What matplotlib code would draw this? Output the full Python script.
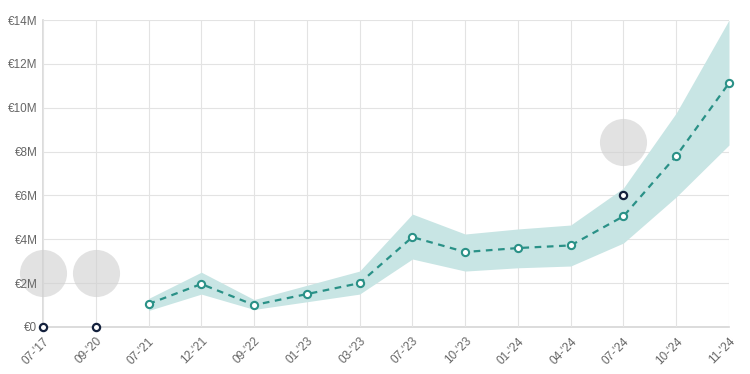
import matplotlib
matplotlib.use("Agg")
import matplotlib.pyplot as plt
import numpy as np

plt.rcParams['font.family'] = ['Liberation Sans', 'DejaVu Sans']

categories = ["07-'17", "09-'20", "07-'21", "12-'21", "09-'22", "01-'23", "03-'23",
              "07-'23", "10-'23", "01-'24", "04-'24", "07-'24", "10-'24", "11-'24"]

# forecast series (millions), starts at index 2
trend_idx = [2, 3, 4, 5, 6, 7, 8, 9, 10, 11, 12, 13]
trend_vals = [1.05, 1.96, 1.0, 1.5, 2.0, 4.1, 3.42, 3.6, 3.72, 5.05, 7.8, 11.12]
band_low = [0.75, 1.5, 0.8, 1.15, 1.5, 3.1, 2.55, 2.7, 2.78, 3.83, 5.93, 8.3]
band_high = [1.3, 2.5, 1.25, 1.9, 2.55, 5.15, 4.24, 4.47, 4.65, 6.34, 9.76, 14.0]

# actual points
actual_idx = [0, 1, 11]
actual_vals = [0.0, 0.0, 6.0]

# grey event bubbles
bubble_idx = [0, 1, 11]
bubble_vals = [2.45, 2.45, 8.45]

yticks = [0, 2, 4, 6, 8, 10, 12, 14]
ytick_labels = ["€0", "€2M", "€4M", "€6M", "€8M", "€10M", "€12M", "€14M"]

teal = "#2a9187"
band = "#c8e5e4"
navy = "#14213d"

fig = plt.figure(figsize=(7.5, 3.74), dpi=100)
ax = fig.add_axes([0.0573, 0.1257, 0.9147, 0.8208])

x = np.arange(len(categories))
for yv in yticks:
    ax.axhline(yv, color="#e3e3e3", lw=0.8, zorder=0.4)
ax.fill_between(trend_idx, band_low, band_high, color=band, lw=0, zorder=2)
ax.plot(trend_idx, trend_vals, color=teal, lw=1.6, ls=(0, (3, 2.5)), zorder=3)
ax.plot(trend_idx, trend_vals, ls="none", marker="o", ms=5.2, mfc="white",
        mec=teal, mew=1.5, zorder=4, clip_on=False)
ax.plot(actual_idx, actual_vals, ls="none", marker="o", ms=5.2, mfc="white",
        mec=navy, mew=1.6, zorder=5, clip_on=False)
ax.scatter(bubble_idx, bubble_vals, s=1150, color="#cfcfcf", alpha=0.6,
           lw=0, zorder=3, clip_on=False)

ax.set_xlim(0, len(categories) - 1)
ax.set_ylim(0, 14)
ax.set_xticks(x)
ax.set_xticklabels(categories, rotation=45, ha="right", va="top",
                   rotation_mode="anchor", fontsize=8.5, color="#666666")
ax.set_yticks(yticks)
ax.set_yticklabels(ytick_labels, fontsize=8.5, color="#666666")
ax.tick_params(axis="both", length=0, pad=4)
ax.tick_params(axis="x", pad=6)

ax.grid(True, axis="x", color="#e3e3e3", lw=0.8, zorder=0)
ax.set_axisbelow(True)
ax.yaxis.set_zorder(10)
for s in ["top", "right"]:
    ax.spines[s].set_visible(False)
ax.spines["left"].set_color("#d6d6d6")
ax.spines["left"].set_linewidth(1.2)
ax.spines["left"].set_zorder(0.5)
ax.spines["bottom"].set_color("#d6d6d6")
ax.spines["bottom"].set_linewidth(1.2)
ax.spines["bottom"].set_zorder(0.5)

fig.savefig("out.png", dpi=100)
